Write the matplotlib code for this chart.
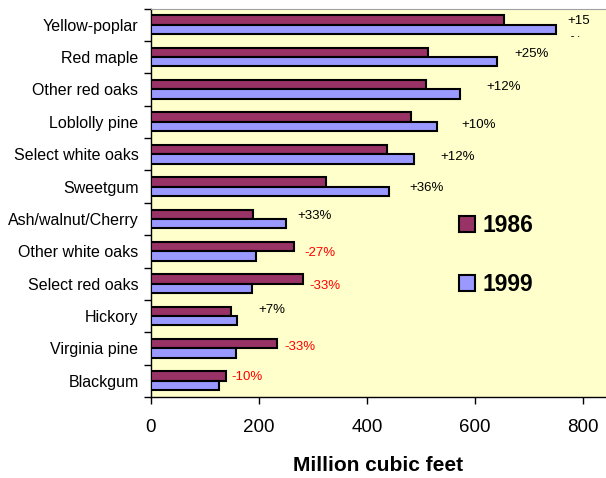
import matplotlib
matplotlib.use("Agg")
import matplotlib.pyplot as plt
import numpy as np
from matplotlib.patches import Patch
from matplotlib.transforms import Bbox, TransformedBbox

plt.rcParams['font.family'] = ['Liberation Sans', 'DejaVu Sans']

species = ["Yellow-poplar", "Red maple", "Other red oaks", "Loblolly pine",
           "Select white oaks", "Sweetgum", "Ash/walnut/Cherry", "Other white oaks",
           "Select red oaks", "Hickory", "Virginia pine", "Blackgum"]
vol_1986 = [654, 513, 508, 482, 436, 323, 188, 265, 282, 148, 234, 139]
vol_1999 = [749, 641, 571, 529, 487, 441, 249, 194, 187, 160, 157, 125]
change_labels = ["+15", "+25%", "+12%", "+10%", "+12%", "+36%", "+33%",
                 "-27%", "-33%", "+7%", "-33%", "-10%"]
label_x = [770, 672, 621, 575, 535, 479, 270, 283, 293, 199, 246, 149]
label_dy = [-0.1, -0.11, -0.06, 0.11, 0.09, 0.03, -0.08, 0.05, 0.08, -0.18, -0.05, -0.11]
series_names = ["1986", "1999"]
xticks = [0, 200, 400, 600, 800]

c86 = "#993366"
c99 = "#9999FF"
bg = "#FFFFCC"

fig = plt.figure(figsize=(6.06, 4.78), dpi=100)
ax = fig.add_axes([151/606, 1-397/478, 1-151/606, (397-8.5)/478])
ax.set_facecolor(bg)

y = np.arange(len(species))
h = 0.29
ax.barh(y - h/2, vol_1986, height=h, color=c86, edgecolor="black", linewidth=1.5, zorder=3)
ax.barh(y + h/2, vol_1999, height=h, color=c99, edgecolor="black", linewidth=1.5, zorder=3)

ax.set_ylim(len(species) - 0.5, -0.5)
ax.set_xlim(0, 842)

ax.set_yticks(y)
ax.set_yticklabels(species, fontsize=11.5)
ax.set_yticks(np.arange(len(species) + 1) - 0.5, minor=True)
ax.tick_params(axis='y', which='major', length=0, pad=9)
ax.tick_params(axis='y', which='minor', length=5, width=1, direction='out')
ax.set_xticks(xticks)
ax.set_xticklabels([str(t) for t in xticks], fontsize=13.5)
ax.tick_params(axis='x', length=5, width=1, direction='out', pad=11)
ax.set_xlabel("Million cubic feet", fontsize=15, fontweight='bold', labelpad=14)

ax.spines['right'].set_visible(False)
ax.spines['top'].set_color('#A0A0A0')
ax.spines['left'].set_linewidth(1)
ax.spines['bottom'].set_linewidth(1)

for i, (lab, lx, dy) in enumerate(zip(change_labels, label_x, label_dy)):
    col = 'red' if lab.startswith('-') else 'black'
    ax.text(lx, i + dy, lab, fontsize=9.5, color=col, va='center', ha='left', zorder=4)
    if not lab.endswith('%'):
        # wrapped "%" cut off by the neighbouring text box, as in the original
        t = ax.text(lx + 4, i + dy + 0.62, "%", fontsize=9.5, color=col,
                    va='center', ha='left', zorder=4)
        t.set_clip_box(TransformedBbox(Bbox([[0, -0.5], [900, i + 0.38]]), ax.transData))
        t.set_clip_on(True)

handles = [Patch(facecolor=c86, edgecolor='black', linewidth=1.5),
           Patch(facecolor=c99, edgecolor='black', linewidth=1.5)]
leg = ax.legend(handles, series_names, loc='center left', bbox_to_anchor=(0.631, 0.366),
                frameon=False, prop={'weight': 'bold', 'size': 16.5},
                handlelength=0.7, handleheight=0.7, handletextpad=0.35,
                labelspacing=1.55)

fig.savefig("out.png", dpi=100, facecolor='white')
